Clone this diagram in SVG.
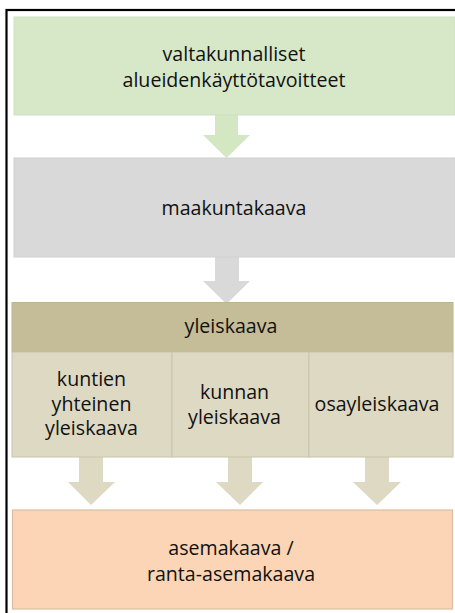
<svg xmlns="http://www.w3.org/2000/svg" width="455" height="613" viewBox="0 0 455 613">
<style>
text{font-family:"Open Sans","Noto Sans",sans-serif;font-size:19.6px;fill:#111;text-anchor:middle}
.frame{fill:none;stroke:#000;stroke-width:2.2}
</style>
<rect width="455" height="613" fill="#fff"/>
<rect class="frame" x="6.5" y="10" width="460" height="620"/>
<g id="connectors">
<polygon points="215,115 238,115 238,135 250,135 226.5,158 203,135 215,135" fill="#d3e7c2"/>
<polygon points="215,257 239,257 239,281 250,281 226.5,304 203,281 215,281" fill="#d9d9d9"/>
<polygon points="79,457 103,457 103,482 115,482 91,505 68,482 79,482" fill="#ddd9c3"/>
<polygon points="228,457 252,457 252,482 263,482 240,505 216,482 228,482" fill="#ddd9c3"/>
<polygon points="365,457 389,457 389,482 401,482 377,505 353,482 365,482" fill="#ddd9c3"/>
</g>
<g id="valtakunnalliset">
<rect x="14" y="17" width="441" height="98" fill="#d7e8c9" stroke="#cfe1bf" stroke-width="1"/>
<text x="234" y="61">valtakunnalliset<tspan x="234" dy="26">alueidenkäyttötavoitteet</tspan></text>
</g>
<g id="maakuntakaava">
<rect x="14" y="158" width="441" height="99" fill="#d9d9d9" stroke="#d0d0d0" stroke-width="1"/>
<text x="234" y="215">maakuntakaava</text>
</g>
<g id="yleiskaava">
<rect x="12" y="302.5" width="441" height="49.5" fill="#c4bd97" stroke="#bcb58f" stroke-width="1"/>
<text x="231" y="333">yleiskaava</text>
</g>
<g id="kuntien-yhteinen">
<rect x="12" y="352" width="160" height="105" fill="#ddd9c3" stroke="#c9c4a8" stroke-width="1"/>
<text x="91.5" y="386">kuntien<tspan x="91.5" dy="24.5">yhteinen</tspan><tspan x="91.5" dy="24.5">yleiskaava</tspan></text>
</g>
<g id="kunnan-yleiskaava">
<rect x="172" y="352" width="137" height="105" fill="#ddd9c3" stroke="#c9c4a8" stroke-width="1"/>
<text x="234.5" y="399">kunnan<tspan x="234.5" dy="24.5">yleiskaava</tspan></text>
</g>
<g id="osayleiskaava">
<rect x="309" y="352" width="144" height="105" fill="#ddd9c3" stroke="#c9c4a8" stroke-width="1"/>
<text x="377" y="411">osayleiskaava</text>
</g>
<g id="asemakaava">
<rect x="12.5" y="510" width="440" height="99" fill="#fbd5b5" stroke="#d9bf9f" stroke-width="1.2"/>
<text x="231" y="555">asemakaava /<tspan x="231" dy="26">ranta-asemakaava</tspan></text>
</g>
</svg>
